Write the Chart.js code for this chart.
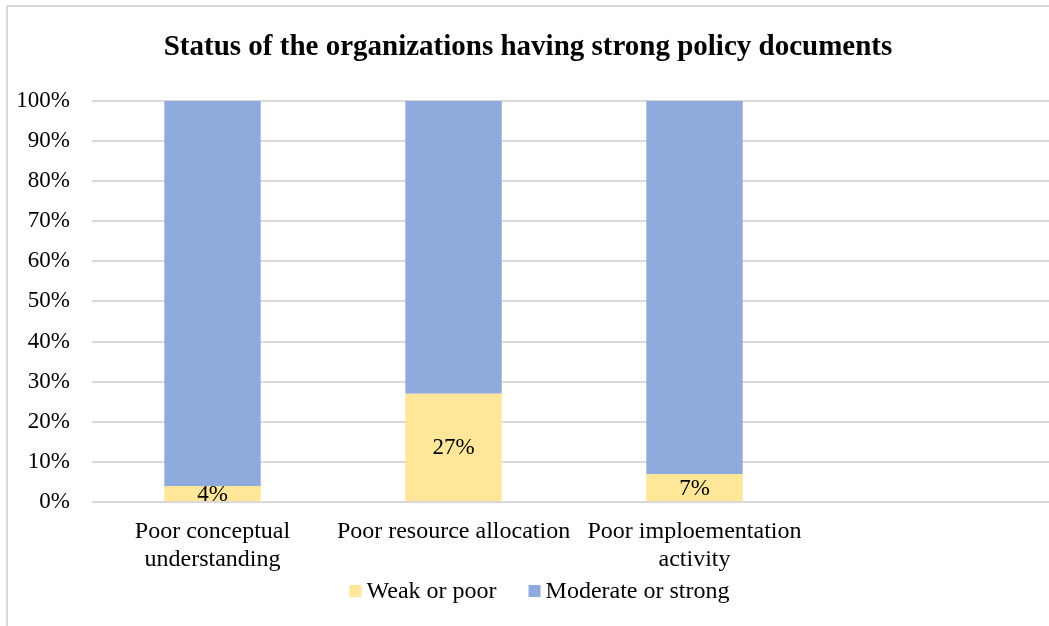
<!DOCTYPE html>
<html>
<head>
<meta charset="utf-8">
<script src="https://cdn.jsdelivr.net/npm/chart.js@4.4.1/dist/chart.umd.min.js"></script>
<style>
  html, body { margin: 0; padding: 0; background: #ffffff; overflow: hidden; width: 1049px; height: 626px; }
  #frame { position: absolute; left: 6px; top: 5px; width: 1100px; height: 700px; border: 2px solid #d9d9d9; box-sizing: border-box; }
  #wrap { position: absolute; left: 0; top: 0; width: 1093px; height: 626px; }
</style>
</head>
<body>
<div id="frame"></div>
<div id="wrap"><canvas id="chart"></canvas></div>
<script>
// Problem areas (the fourth slot is left empty on purpose)
const categories = [
  ['Poor conceptual', 'understanding'],
  'Poor resource allocation',
  ['Poor imploementation', 'activity'],
  ''
];
// Share of organizations, in percent
const weakOrPoor = [4, 27, 7, null];
const moderateOrStrong = [96, 73, 93, null];
const seriesNames = ['Weak or poor', 'Moderate or strong'];
const seriesColors = ['#FFE699', '#8FAADC'];
const chartTitle = 'Status of the organizations having strong policy documents';

const FONT = "'Liberation Serif', 'Times New Roman', serif";

// Writes the value inside each "Weak or poor" segment
const segmentLabels = {
  id: 'segmentLabels',
  afterDatasetsDraw(chart) {
    const ctx = chart.ctx;
    const meta = chart.getDatasetMeta(0);
    ctx.save();
    ctx.font = '23px ' + FONT;
    ctx.fillStyle = '#000000';
    ctx.textAlign = 'center';
    ctx.textBaseline = 'middle';
    meta.data.forEach((bar, i) => {
      const v = weakOrPoor[i];
      if (v === null || v === undefined) return;
      ctx.fillText(v + '%', bar.x, (bar.y + bar.base) / 2 + 1);
    });
    ctx.restore();
  }
};

// Compact legend row under the axis labels
const bottomLegend = {
  id: 'bottomLegend',
  afterDraw(chart) {
    const ctx = chart.ctx;
    const box = 12, boxGap = 5, itemGap = 32;
    ctx.save();
    ctx.font = '24px ' + FONT;
    ctx.textBaseline = 'middle';
    ctx.textAlign = 'left';
    const items = chart.data.datasets.map(ds => ({
      text: ds.label, color: ds.backgroundColor, w: ctx.measureText(ds.label).width
    }));
    let total = 0;
    items.forEach((it, i) => { total += box + boxGap + it.w + (i ? itemGap : 0); });
    let x = chart.width / 2 - 7 - total / 2;
    const y = 591;
    items.forEach((it, i) => {
      if (i) x += itemGap;
      ctx.fillStyle = it.color;
      ctx.fillRect(x, y - box / 2, box, box);
      x += box + boxGap;
      ctx.fillStyle = '#000000';
      ctx.fillText(it.text, x, y + 1);
      x += it.w;
    });
    ctx.restore();
  }
};

new Chart(document.getElementById('chart'), {
  type: 'bar',
  data: {
    labels: categories,
    datasets: [
      { label: seriesNames[0], data: weakOrPoor, backgroundColor: seriesColors[0], borderWidth: 0 },
      { label: seriesNames[1], data: moderateOrStrong, backgroundColor: seriesColors[1], borderWidth: 0 }
    ]
  },
  options: {
    responsive: true,
    maintainAspectRatio: false,
    animation: false,
    layout: { padding: { left: 0, right: 37, top: 0, bottom: 50 } },
    datasets: { bar: { barPercentage: 1, categoryPercentage: 0.4 } },
    scales: {
      x: {
        stacked: true,
        grid: { display: false, drawTicks: false },
        border: { display: false },
        afterFit(scale) { scale.height = 74; },
        ticks: { color: '#000000', font: { family: FONT, size: 24 }, padding: 15, maxRotation: 0, autoSkip: false }
      },
      y: {
        stacked: true,
        min: 0,
        max: 100,
        grid: { color: '#d9d9d9', lineWidth: 2, drawTicks: false },
        border: { display: false },
        afterFit(scale) { scale.width = 92; },
        ticks: {
          stepSize: 10,
          color: '#000000',
          font: { family: FONT, size: 23 },
          padding: 22,
          callback: (v) => v + '%'
        }
      }
    },
    plugins: {
      title: {
        display: true,
        text: chartTitle,
        color: '#000000',
        font: { family: FONT, size: 29, weight: 'bold' },
        padding: { top: 30, bottom: 36 }
      },
      legend: { display: false },
      tooltip: { enabled: false }
    }
  },
  plugins: [segmentLabels, bottomLegend]
});
</script>
</body>
</html>
